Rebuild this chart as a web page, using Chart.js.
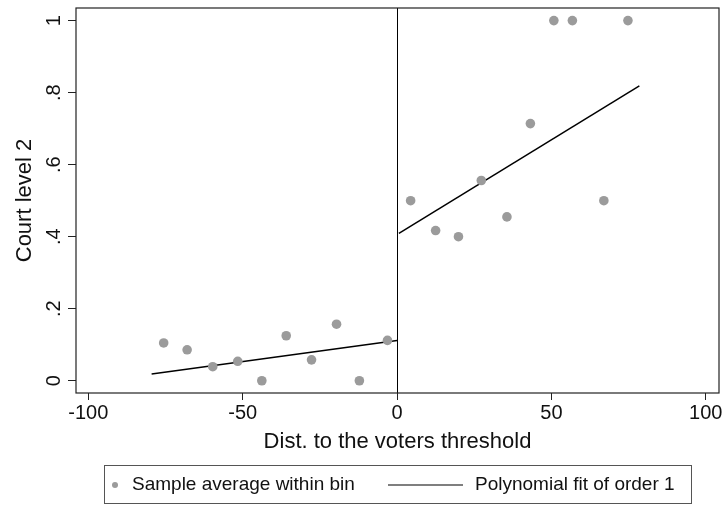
<!DOCTYPE html>
<html lang="en">
<head>
  <meta charset="UTF-8" />
  <title>Court level 2 - RD plot</title>
  <script src="https://cdn.jsdelivr.net/npm/chart.js"></script>
  <style>
    body { margin: 0; background: #fff; }
    #wrap { width: 726px; height: 507px; }
  </style>
</head>
<body>
  <div id="wrap">
    <canvas id="rdChart" width="726" height="507"></canvas>
  </div>

  <script>
    // bin averages
    const binX = [-75.6, -68, -59.7, -51.6, -43.8, -35.9, -27.7, -19.6, -12.2, -3.1,
                  4.4, 12.5, 19.9, 27.3, 35.6, 43.2, 50.8, 56.8, 67, 74.8];
    const binY = [0.105, 0.086, 0.039, 0.054, 0, 0.125, 0.058, 0.157, 0, 0.112,
                  0.5, 0.417, 0.4, 0.556, 0.455, 0.714, 1, 1, 0.5, 1];

    // linear fits on each side of the threshold
    const fitLeftX = [-79.5, 0];
    const fitLeftY = [0.019, 0.112];
    const fitRightX = [0.6, 78.5];
    const fitRightY = [0.409, 0.819];

    const threshold = 0;
    const xTicks = [-100, -50, 0, 50, 100];
    const yTicks = [0, 0.2, 0.4, 0.6, 0.8, 1];
    const yTickLabels = ['0', '.2', '.4', '.6', '.8', '1'];

    const xTitle = 'Dist. to the voters threshold';
    const yTitle = 'Court level 2';
    const legendLabels = ['Sample average within bin', 'Polynomial fit of order 1'];

    const FONT = '"Liberation Sans", Arial, Helvetica, sans-serif';
    const dotColor = 'rgb(155,155,155)';

    const toPts = (xs, ys) => xs.map((x, i) => ({ x: x, y: ys[i] }));

    // frame, cutoff line, rotated y labels, titles and the boxed legend
    const stataDecor = {
      id: 'stataDecor',
      afterDatasetsDraw(chart) {
        const ctx = chart.ctx;
        const a = chart.chartArea;
        const xs = chart.scales.x;
        const ys = chart.scales.y;
        ctx.save();

        // cutoff
        const cx = Math.round(xs.getPixelForValue(threshold)) + 0.5;
        ctx.strokeStyle = '#000';
        ctx.lineWidth = 1;
        ctx.beginPath();
        ctx.moveTo(cx, a.top);
        ctx.lineTo(cx, a.bottom);
        ctx.stroke();

        // plot region border
        ctx.strokeStyle = '#222';
        ctx.lineWidth = 1.2;
        ctx.strokeRect(a.left, a.top, a.right - a.left, a.bottom - a.top);

        // y tick labels, rotated like Stata
        ctx.fillStyle = '#111';
        ctx.font = '20px ' + FONT;
        ctx.textAlign = 'center';
        ctx.textBaseline = 'alphabetic';
        yTicks.forEach((v, i) => {
          const py = ys.getPixelForValue(v);
          ctx.save();
          ctx.translate(60, py);
          ctx.rotate(-Math.PI / 2);
          ctx.fillText(yTickLabels[i], 0, 0);
          ctx.restore();
        });

        // axis titles
        ctx.font = '22px ' + FONT;
        ctx.fillText(xTitle, (a.left + a.right) / 2, 448);
        ctx.save();
        ctx.translate(31, (a.top + a.bottom) / 2);
        ctx.rotate(-Math.PI / 2);
        ctx.fillText(yTitle, 0, 0);
        ctx.restore();

        // legend box
        const lx = 104, ly = 465, lw = 587, lh = 38;
        ctx.strokeStyle = '#555';
        ctx.lineWidth = 1;
        ctx.strokeRect(lx + 0.5, ly + 0.5, lw, lh);
        const my = ly + lh / 2 + 1;
        ctx.fillStyle = dotColor;
        ctx.beginPath();
        ctx.arc(115, my, 3, 0, Math.PI * 2);
        ctx.fill();
        ctx.strokeStyle = '#000';
        ctx.lineWidth = 1.2;
        ctx.beginPath();
        ctx.moveTo(388, my);
        ctx.lineTo(463, my);
        ctx.stroke();
        ctx.fillStyle = '#111';
        ctx.font = '19px ' + FONT;
        ctx.textAlign = 'left';
        ctx.textBaseline = 'middle';
        ctx.fillText(legendLabels[0], 132, my);
        ctx.fillText(legendLabels[1], 475, my);

        ctx.restore();
      }
    };

    new Chart(document.getElementById('rdChart'), {
      type: 'scatter',
      data: {
        datasets: [
          {
            label: legendLabels[0],
            data: toPts(binX, binY),
            backgroundColor: dotColor,
            borderColor: dotColor,
            pointRadius: 4.8,
            pointBorderWidth: 0
          },
          {
            type: 'line',
            label: legendLabels[1],
            data: toPts(fitLeftX, fitLeftY),
            borderColor: '#000',
            borderWidth: 1.5,
            pointRadius: 0,
            fill: false
          },
          {
            type: 'line',
            label: legendLabels[1],
            data: toPts(fitRightX, fitRightY),
            borderColor: '#000',
            borderWidth: 1.5,
            pointRadius: 0,
            fill: false
          }
        ]
      },
      options: {
        responsive: false,
        animation: false,
        devicePixelRatio: 1,
        layout: { padding: { left: 0, top: 8, right: 7, bottom: 0 } },
        plugins: {
          legend: { display: false },
          tooltip: { enabled: false }
        },
        scales: {
          x: {
            type: 'linear',
            min: -104,
            max: 104.3,
            afterBuildTicks: s => { s.ticks = xTicks.map(v => ({ value: v })); },
            afterFit: s => { s.height = 114; },
            border: { display: false },
            grid: { display: true, drawOnChartArea: false, drawTicks: true, tickLength: 7, color: '#222', lineWidth: 1 },
            ticks: { color: '#111', padding: 1, maxRotation: 0, font: { family: FONT, size: 20 } }
          },
          y: {
            type: 'linear',
            min: -0.034,
            max: 1.035,
            afterBuildTicks: s => { s.ticks = yTicks.map(v => ({ value: v })); },
            afterFit: s => { s.width = 76; },
            border: { display: false },
            grid: { display: true, drawOnChartArea: false, drawTicks: true, tickLength: 8, color: '#222', lineWidth: 1 },
            ticks: { callback: () => '', padding: 0 }
          }
        }
      },
      plugins: [stataDecor]
    });
  </script>
</body>
</html>
